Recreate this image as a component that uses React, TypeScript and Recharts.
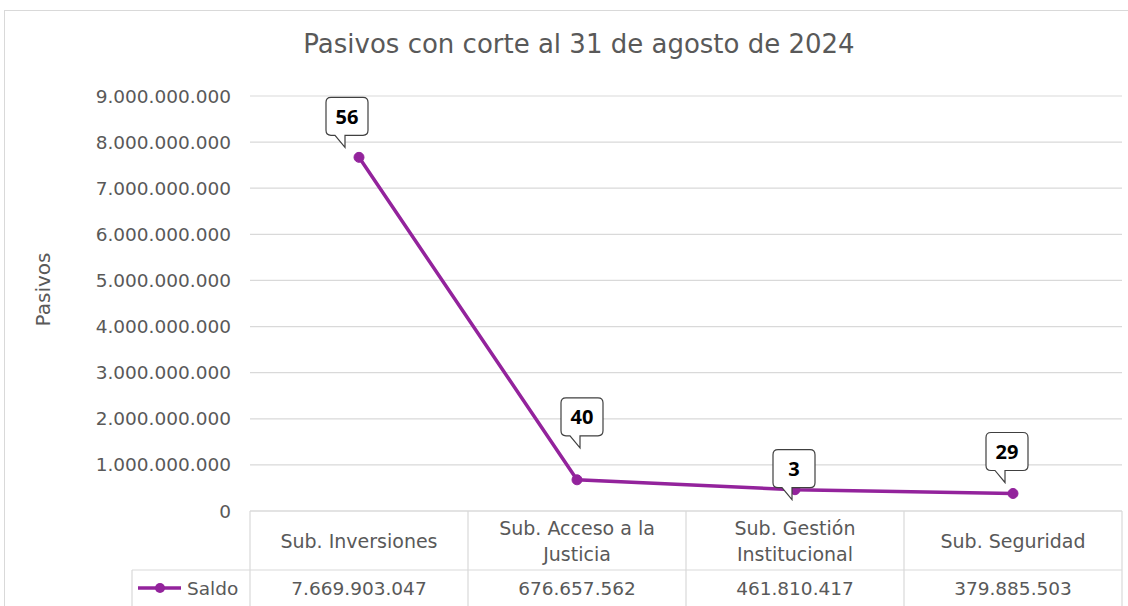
import { CartesianGrid, LabelList, Line, LineChart, XAxis, YAxis } from "recharts";

const categories = [
  "Sub. Inversiones",
  "Sub. Acceso a la Justicia",
  "Sub. Gestión Institucional",
  "Sub. Seguridad"
];
const saldo = [7669903047, 676657562, 461810417, 379885503];
const cantidad = [56, 40, 3, 29];
const yTicks = [0, 1e9, 2e9, 3e9, 4e9, 5e9, 6e9, 7e9, 8e9, 9e9];

// where each callout tip sits relative to its point (dx, dy)
const calloutTips = [
  [-14, -10],
  [3, -32],
  [-3, 10],
  [-8, -11]
];

const FONT = "'DejaVu Sans', 'Noto Sans', sans-serif";
const LABEL_FONT = "'Open Sans', 'Noto Sans', sans-serif";
const GREY = "#595959";
const GRID = "#d9d9d9";
const PURPLE = "#93239c";

const data = categories.map((name, i) => ({ name, saldo: saldo[i], cantidad: cantidad[i] }));

const fmt = (v: number) => String(Math.round(v)).replace(/\B(?=(\d{3})+(?!\d))/g, ".");

let measureCtx: CanvasRenderingContext2D | null = null;
function wrap(label: string, maxWidth: number, font: string) {
  if (!measureCtx) measureCtx = document.createElement("canvas").getContext("2d");
  const ctx = measureCtx!;
  ctx.font = font;
  const lines: string[] = [];
  let cur = "";
  for (const word of label.split(" ")) {
    const next = cur ? cur + " " + word : word;
    if (cur && ctx.measureText(next).width > maxWidth) {
      lines.push(cur);
      cur = word;
    } else {
      cur = next;
    }
  }
  if (cur) lines.push(cur);
  return lines;
}

function Callout(props: any) {
  const { x, y, value, index } = props;
  const [dx, dy] = calloutTips[index] ?? [0, -12];
  const tx = x + dx;
  const ty = y + dy;
  const w = 42;
  const h = 38;
  const r = 5;
  const left = tx - 19;
  const right = left + w;
  const bottom = ty - 12;
  const top = bottom - h;
  const d = [
    `M${left + r},${top}`,
    `H${right - r}`,
    `Q${right},${top} ${right},${top + r}`,
    `V${bottom - r}`,
    `Q${right},${bottom} ${right - r},${bottom}`,
    `H${left + 19}`,
    `L${tx},${ty}`,
    `L${left + 9},${bottom}`,
    `H${left + r}`,
    `Q${left},${bottom} ${left},${bottom - r}`,
    `V${top + r}`,
    `Q${left},${top} ${left + r},${top}`,
    "Z"
  ].join(" ");
  return (
    <g>
      <path d={d} fill="#fff" stroke="#404040" strokeWidth={1.2} />
      <text
        x={(left + right) / 2}
        y={(top + bottom) / 2}
        textAnchor="middle"
        dominantBaseline="central"
        fontFamily={LABEL_FONT}
        fontWeight={700}
        fontSize={20}
        fill="#000"
      >
        {value}
      </text>
    </g>
  );
}

function TableTick(props: any) {
  const { x, y, payload, index, visibleTicksCount } = props;
  const bw = (props.width ?? 872) / (visibleTicksCount || 4);
  const x0 = x - bw / 2;
  const x1 = x + bw / 2;
  const rowY = y + 59;
  const last = index === (visibleTicksCount || 4) - 1;
  const lines = wrap(String(payload.value), 178, "19px 'DejaVu Sans'");
  const lineH = 26;
  const firstY = y + 30 - ((lines.length - 1) * lineH) / 2;
  return (
    <g>
      <line x1={x0} y1={y} x2={x0} y2={y + 120} stroke={GRID} strokeWidth={1.2} />
      {last && <line x1={x1} y1={y} x2={x1} y2={y + 120} stroke={GRID} strokeWidth={1.2} />}
      <line x1={x0} y1={rowY} x2={x1} y2={rowY} stroke={GRID} strokeWidth={1.2} />
      {lines.map((ln, i) => (
        <text
          key={i}
          x={x}
          y={firstY + i * lineH}
          textAnchor="middle"
          dominantBaseline="central"
          fontFamily={FONT}
          fontSize={19}
          fill={GREY}
        >
          {ln}
        </text>
      ))}
      <text
        x={x}
        y={rowY + 18}
        textAnchor="middle"
        dominantBaseline="central"
        fontFamily={FONT}
        fontSize={18.5}
        fill={GREY}
      >
        {fmt(saldo[index])}
      </text>
      {index === 0 && (
        <g>
          <line x1={x0 - 118} y1={rowY} x2={x0} y2={rowY} stroke={GRID} strokeWidth={1.2} />
          <line x1={x0 - 118} y1={rowY} x2={x0 - 118} y2={y + 120} stroke={GRID} strokeWidth={1.2} />
          <line x1={x0 - 112} y1={rowY + 18} x2={x0 - 69} y2={rowY + 18} stroke={PURPLE} strokeWidth={3.5} />
          <circle cx={x0 - 90} cy={rowY + 18} r={5} fill={PURPLE} />
          <text
            x={x0 - 63}
            y={rowY + 18}
            dominantBaseline="central"
            fontFamily={FONT}
            fontSize={18.5}
            fill={GREY}
          >
            Saldo
          </text>
        </g>
      )}
    </g>
  );
}

function YTitle(props: any) {
  const { viewBox } = props;
  const cx = viewBox.x + 23;
  const cy = viewBox.y + viewBox.height / 2 - 14;
  return (
    <text
      x={cx}
      y={cy}
      transform={`rotate(-90 ${cx} ${cy})`}
      textAnchor="middle"
      dominantBaseline="central"
      fontFamily={FONT}
      fontSize={20}
      fill={GREY}
    >
      Pasivos
    </text>
  );
}

export default function App() {
  return (
    <div
      style={{
        position: "absolute",
        left: 0,
        top: 0,
        width: 1128,
        height: 606,
        overflow: "hidden",
        background: "#fff",
        fontFamily: FONT
      }}
    >
      <div
        style={{
          position: "absolute",
          left: 4,
          top: 10,
          width: 1200,
          height: 700,
          border: `1.5px solid ${GRID}`
        }}
      />
      <div
        style={{
          position: "absolute",
          left: 0,
          top: 29,
          width: 1158,
          textAlign: "center",
          fontSize: 26,
          lineHeight: "30px",
          color: GREY
        }}
      >
        Pasivos con corte al 31 de agosto de 2024
      </div>
      <div style={{ position: "absolute", left: 0, top: 0 }}>
        <LineChart
          width={1128}
          height={606}
          data={data}
          margin={{ top: 96, right: 6, bottom: 0, left: 20 }}
        >
          <CartesianGrid vertical={false} stroke={GRID} strokeWidth={1.2} />
          <XAxis
            dataKey="name"
            type="category"
            padding={{ left: 109, right: 109 }}
            height={95}
            axisLine={{ stroke: GRID, strokeWidth: 1.2 }}
            tickLine={false}
            tickSize={0}
            tickMargin={0}
            interval={0}
            tick={<TableTick />}
          />
          <YAxis
            width={230}
            domain={[0, 9e9]}
            ticks={yTicks}
            interval={0}
            axisLine={false}
            tickLine={false}
            tickSize={0}
            tickMargin={19}
            tickFormatter={fmt}
            tick={{ fill: GREY, fontSize: 18.5, fontFamily: FONT }}
            label={<YTitle />}
          />
          <Line
            type="linear"
            dataKey="saldo"
            stroke={PURPLE}
            strokeWidth={3.5}
            dot={{ r: 5, fill: PURPLE, stroke: PURPLE, strokeWidth: 1 }}
            activeDot={false}
            isAnimationActive={false}
          >
            <LabelList dataKey="cantidad" content={<Callout />} />
          </Line>
        </LineChart>
      </div>
    </div>
  );
}
